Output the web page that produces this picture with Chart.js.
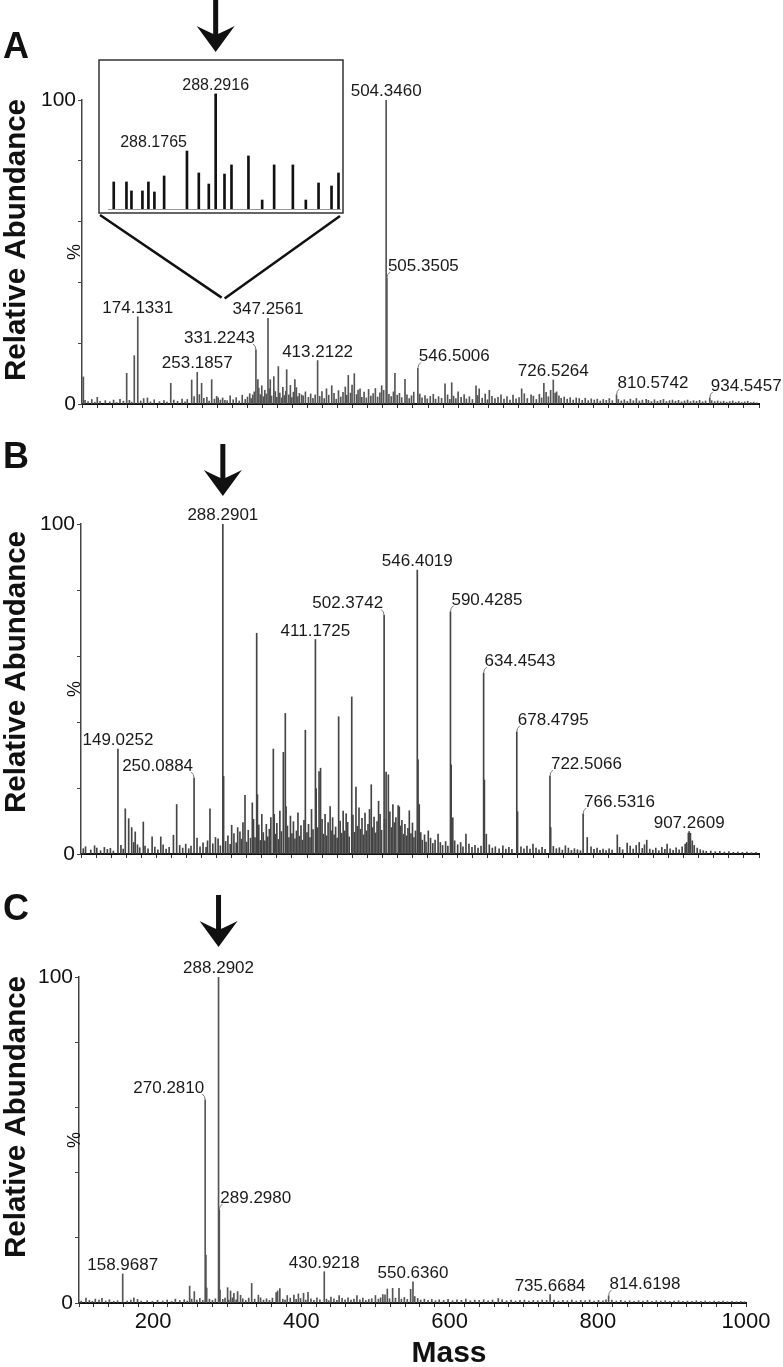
<!DOCTYPE html>
<html>
<head>
<meta charset="utf-8">
<script src="https://cdn.jsdelivr.net/npm/chart.js@4.4.1/dist/chart.umd.min.js"></script>
<style>
  html, body { margin: 0; padding: 0; background: #fff; }
  #wrap { position: relative; width: 783px; height: 1367px; overflow: hidden; }
  canvas { position: absolute; }
</style>
</head>
<body>
<div id="wrap">
  <canvas id="chartA" width="783" height="420" style="left:0;top:0"></canvas>
  <canvas id="chartB" width="783" height="450" style="left:0;top:420px"></canvas>
  <canvas id="chartC" width="783" height="497" style="left:0;top:870px"></canvas>
  <canvas id="inset" width="260" height="220" style="left:90px;top:0"></canvas>
</div>
<script>
// ---- data: [mass, relative abundance %] ----
const peaksA = [[101.8, 8.9], [120.3, 2.2], [150.5, 1.5], [159.4, 10.1], [169.5, 15.9], [174.1331, 28.7], [187.0, 2.0],
  [218.0, 6.8], [240.0, 1.5], [245.8, 7.9], [253.1857, 10.4], [259.0, 6.8], [272.4, 8.0], [281.0, 2.0], [290.0, 1.2],
  [327.0, 3.0], [331.2243, 17.8], [333.8, 8.0], [347.2561, 28.2], [350.3, 8.0], [355.0, 9.0], [361.0, 12.3], [365.5, 2.0],
  [372.1, 11.3], [383.0, 8.0], [392.0, 3.0], [413.2122, 14.3], [425.0, 5.0], [432.0, 6.0], [454.0, 9.4], [462.0, 10.0],
  [469.6, 5.0], [498.4, 6.0], [504.3460, 100], [505.3505, 41.4], [516.0, 10.1], [529.4, 8.1], [546.5006, 11.7], [582.6, 6.6],
  [591.5, 7.0], [600.0, 4.0], [623.8, 6.0], [628.0, 5.0], [641.5, 4.5], [684.5, 5.0], [697.0, 3.0], [714.0, 6.8],
  [726.5264, 7.9], [731.0, 4.0], [757.0, 2.0], [810.5742, 3.0], [850.0, 1.5], [934.5457, 2.0]];
const noiseA = [[104, 1.2], [108, 0.8], [113, 1.5], [117, 0.6], [124, 0.9], [131, 1.1], [137, 0.7], [142, 1.3], [146, 0.5],
  [155, 0.9], [163, 1.2], [166, 0.6], [178, 1.0], [182, 1.8], [191, 0.7], [196, 1.4], [203, 0.8], [209, 1.1], [213, 0.6],
  [222, 1.3], [227, 0.9], [233, 1.6], [237, 0.7], [249, 2.4], [256, 3.1], [262, 1.9], [266, 2.2], [269, 1.0], [276, 1.6],
  [279, 2.5], [284, 1.3], [287, 2.0], [293, 1.1], [297, 2.7], [301, 1.4], [305, 2.1], [309, 1.0], [313, 2.9], [317, 1.5],
  [320, 2.3], [323, 3.4], [325, 1.8], [329, 4.0], [335, 5.2], [337, 3.1], [339, 6.0], [341, 2.4], [343, 4.5], [345, 3.3],
  [349, 5.0], [352, 2.6], [357, 4.1], [359, 2.2], [363, 3.6], [367, 5.5], [369, 2.8], [371, 4.2], [375, 3.0], [377, 6.1],
  [379, 2.1], [381, 3.9], [385, 5.4], [387, 2.4], [389, 3.5], [394, 2.7], [397, 4.0], [401, 2.2], [404, 3.3], [407, 1.9],
  [410, 3.0], [416, 2.5], [419, 4.1], [422, 1.8], [428, 2.9], [435, 3.5], [438, 1.6], [441, 4.4], [444, 2.3], [447, 3.8],
  [450, 5.6], [452, 2.9], [457, 3.6], [459, 6.2], [465, 3.1], [467, 4.6], [472, 2.2], [475, 3.9], [478, 2.0], [481, 4.8],
  [484, 2.6], [487, 3.4], [490, 5.1], [493, 2.3], [496, 3.7], [501, 4.5], [508, 3.2], [511, 2.4], [514, 4.0], [519, 2.9],
  [522, 3.5], [525, 2.1], [532, 3.0], [535, 1.8], [538, 2.7], [541, 3.9], [549, 3.3], [552, 2.0], [556, 2.8], [559, 1.7],
  [563, 2.5], [567, 3.2], [570, 1.6], [574, 2.4], [578, 1.9], [586, 3.0], [589, 1.5], [594, 2.6], [597, 1.8], [604, 2.2],
  [608, 3.1], [611, 1.7], [615, 2.4], [619, 1.5], [626, 2.8], [632, 1.9], [636, 3.3], [639, 1.4], [645, 2.5], [649, 1.8],
  [653, 2.2], [657, 3.0], [661, 1.6], [665, 2.4], [669, 1.3], [673, 2.9], [677, 1.7], [681, 2.1], [688, 3.4], [692, 1.8],
  [700, 2.6], [704, 1.5], [708, 3.2], [711, 2.0], [717, 3.8], [720, 2.4], [723, 4.5], [729, 3.6], [734, 2.7], [737, 1.9],
  [741, 2.3], [745, 1.6], [749, 2.1], [753, 1.3], [761, 1.8], [765, 1.2], [769, 1.9], [773, 1.1], [777, 1.7], [781, 1.3],
  [785, 1.6], [789, 1.0], [793, 1.5], [797, 1.2], [801, 1.8], [805, 1.1], [813, 1.5], [817, 1.0], [821, 1.4], [825, 0.9],
  [829, 1.6], [833, 1.1], [837, 1.8], [841, 1.0], [845, 1.3], [853, 1.2], [857, 0.8], [861, 1.4], [865, 0.9], [869, 1.2],
  [873, 1.5], [877, 0.8], [881, 1.1], [885, 1.3], [889, 0.9], [893, 1.2], [897, 0.7], [901, 1.0], [905, 1.3], [909, 0.8],
  [913, 1.1], [917, 0.9], [921, 1.2], [925, 0.7], [929, 1.0], [937, 1.1], [941, 0.8], [945, 1.0], [949, 0.7], [953, 0.9],
  [957, 0.6], [961, 0.8], [965, 1.0], [969, 0.6], [973, 0.8], [977, 0.5], [981, 0.7], [985, 0.9], [989, 0.5], [993, 0.6], [997, 0.4]];
const tagsA = ['174.1331', '253.1857', '331.2243', '347.2561', '413.2122', '504.3460', '505.3505', '546.5006', '726.5264', '810.5742', '934.5457'];

const insetPeaks = [[287.883, 23.5], [287.934, 23.5], [287.954, 15.7], [287.998, 15.7], [288.022, 23.5], [288.046, 14.8],
  [288.085, 28.7], [288.1765, 50.4], [288.224, 31.3], [288.264, 21.7], [288.2916, 100], [288.327, 30.4], [288.355, 38.3],
  [288.423, 46.1], [288.478, 7.8], [288.526, 38.3], [288.601, 38.3], [288.653, 7.8], [288.704, 22.6], [288.756, 20.0], [288.784, 31.3]];
const insetTags = ['288.2916', '288.1765'];

const peaksB = [[149.0252, 31.8], [158.8, 13.7], [163.3, 10.7], [167.3, 8.0], [172.0, 6.7], [182.7, 9.7], [194.4, 5.2],
  [205.9, 5.2], [222.7, 5.7], [227.0, 15.0], [250.0884, 23.0], [271.2, 13.7], [278.5, 5.0], [288.2901, 100], [289.3, 23.5],
  [300.0, 8.7], [311.0, 6.7], [317.7, 17.8], [327.4, 15.5], [333.2, 66.9], [334.2, 18.0], [355.3, 31.8], [356.5, 12.0],
  [368.6, 30.8], [371.2, 42.6], [372.2, 14.4], [397.8, 37.5], [411.1725, 65.0], [412.2, 19.8], [416.0, 25.0], [418.0, 26.0],
  [430.7, 14.4], [442.0, 41.6], [452.0, 12.2], [459.4, 47.6], [465.0, 20.3], [485.3, 21.0], [495.0, 16.0], [502.3742, 72.3],
  [505.0, 24.8], [508.0, 24.0], [521.0, 14.7], [522.5, 14.3], [535.8, 13.1], [546.4019, 86.0], [547.4, 28.5], [549.0, 15.0],
  [561.0, 7.0], [574.0, 6.0], [590.4285, 73.4], [591.4, 27.0], [593.5, 11.0], [611.0, 6.0], [634.4543, 54.8], [635.5, 22.4],
  [638.0, 6.0], [678.4795, 37.0], [679.5, 12.8], [700.0, 3.0], [722.5066, 23.6], [723.5, 8.0], [743.0, 2.5], [766.5316, 12.1],
  [772.0, 5.0], [811.9, 5.8], [825.0, 3.3], [841.0, 3.5], [851.0, 4.2], [878.0, 3.0], [902.0, 3.0], [906.2, 6.3],
  [907.2609, 6.8], [909.0, 6.3], [911.5, 4.0]];
const noiseB = [[103, 1.6], [106, 2.2], [113, 1.2], [118, 2.5], [121, 1.8], [126, 1.0], [131, 2.0], [135, 1.4], [139, 1.7],
  [143, 0.9], [153, 2.6], [156, 1.5], [170, 3.5], [175, 2.8], [178, 1.9], [185, 2.4], [189, 1.6], [198, 2.1], [202, 1.3],
  [209, 2.8], [213, 1.5], [217, 2.0], [231, 2.6], [235, 1.8], [239, 3.0], [243, 1.6], [246, 2.4], [254, 4.8], [258, 2.2],
  [262, 3.4], [266, 2.0], [268, 4.0], [275, 3.1], [282, 4.6], [285, 2.5], [292, 3.8], [295, 5.5], [298, 2.9], [303, 6.2],
  [306, 3.4], [308, 8.0], [313, 4.5], [315, 9.5], [320, 3.6], [322, 7.2], [325, 4.8], [329, 10.5], [331, 5.0], [336, 8.8],
  [338, 4.1], [340, 12.0], [342, 6.5], [344, 4.0], [346, 9.0], [348, 5.2], [350, 7.5], [352, 11.0], [358, 6.0], [360, 9.3],
  [362, 4.4], [364, 13.0], [366, 6.8], [374, 8.5], [376, 5.0], [378, 11.5], [380, 6.2], [382, 9.8], [384, 4.6], [386, 7.0],
  [388, 12.5], [390, 5.4], [392, 8.6], [394, 4.2], [396, 10.2], [400, 6.5], [402, 9.0], [404, 5.0], [406, 13.5], [408, 7.4],
  [414, 8.0], [420, 10.5], [422, 6.0], [424, 12.0], [426, 5.5], [428, 9.5], [432, 7.0], [434, 11.0], [436, 5.8], [438, 8.2],
  [440, 4.8], [444, 10.0], [446, 6.3], [448, 13.0], [450, 7.0], [454, 9.6], [456, 5.2], [461, 11.8], [463, 6.6], [467, 8.4],
  [469, 14.0], [471, 7.5], [473, 10.8], [475, 5.8], [477, 12.4], [479, 7.0], [481, 9.0], [483, 13.5], [487, 8.0], [489, 11.2],
  [491, 6.4], [493, 9.8], [497, 12.0], [499, 7.2], [503, 10.5], [510, 12.8], [512, 8.0], [514, 15.0], [516, 9.5], [518, 11.0],
  [524, 8.5], [526, 10.2], [528, 6.0], [530, 9.0], [532, 5.5], [534, 7.8], [538, 6.2], [540, 9.4], [542, 5.0], [544, 7.0],
  [551, 6.5], [553, 4.2], [556, 5.8], [558, 3.6], [564, 4.8], [567, 3.2], [570, 4.2], [577, 3.5], [580, 2.6], [584, 3.8],
  [587, 2.4], [596, 4.0], [600, 2.8], [604, 3.5], [607, 2.2], [615, 3.0], [619, 2.0], [623, 2.6], [627, 1.8], [631, 2.4],
  [642, 2.8], [646, 1.8], [650, 2.2], [655, 1.6], [660, 2.5], [664, 1.5], [668, 2.0], [672, 1.4], [684, 2.2], [688, 1.6],
  [692, 2.4], [696, 1.5], [704, 1.8], [708, 1.3], [712, 2.0], [716, 1.4], [727, 2.3], [731, 1.6], [735, 1.9], [739, 1.2],
  [747, 1.8], [751, 1.1], [755, 1.6], [759, 1.3], [763, 1.0], [777, 2.2], [781, 1.4], [785, 1.8], [789, 1.1], [793, 1.5],
  [797, 1.0], [801, 1.6], [805, 1.2], [815, 2.0], [819, 1.3], [829, 2.4], [833, 1.5], [837, 2.6], [845, 1.7], [848, 2.8],
  [855, 1.5], [859, 1.2], [863, 1.8], [867, 1.0], [871, 2.0], [875, 1.4], [882, 1.6], [886, 1.1], [890, 1.9], [894, 1.3],
  [898, 2.2], [904, 3.5], [914, 2.6], [918, 1.8], [922, 1.3], [926, 1.0], [930, 0.8], [936, 0.9], [942, 0.7], [948, 0.8],
  [954, 0.6], [960, 0.7], [966, 0.5], [972, 0.6], [978, 0.5], [984, 0.6], [990, 0.4], [996, 0.5]];
const tagsB = ['149.0252', '250.0884', '288.2901', '411.1725', '502.3742', '546.4019', '590.4285', '634.4543', '678.4795', '722.5066', '766.5316', '907.2609'];

const peaksC = [[109.4, 1.5], [122, 1.2], [131, 1.4], [158.9687, 8.9], [174, 1.6], [230, 1.2], [249.3, 5.2], [255.6, 3.5],
  [270.2810, 62.3], [271.28, 14.7], [272.3, 4.6], [288.2902, 100], [289.2980, 28.5], [290.3, 4.0], [300.5, 4.7], [304.5, 3.7],
  [309.0, 3.0], [314.0, 3.5], [318, 2.4], [333.0, 6.0], [342, 2.4], [366, 3.2], [368, 3.7], [371, 4.4], [381, 2.3], [390, 2.4],
  [396, 2.8], [403.0, 3.0], [409, 3.3], [430.9218, 9.6], [440, 1.8], [451, 2.3], [475, 2.3], [500, 2.3], [510, 2.6],
  [512.9, 2.5], [516, 4.3], [523.2, 4.5], [531.8, 4.5], [547.5, 4.2], [550.6360, 6.5], [553, 2.0], [665.8, 1.4],
  [735.6684, 2.6], [814.6198, 2.2]];
const noiseC = [[103, 0.6], [114, 0.8], [118, 0.5], [127, 0.9], [136, 0.6], [141, 1.0], [147, 0.5], [152, 0.7], [165, 0.6],
  [170, 0.9], [179, 1.1], [184, 0.6], [192, 0.7], [199, 0.5], [206, 0.8], [213, 0.6], [219, 0.9], [225, 0.5], [236, 0.8],
  [242, 1.0], [246, 0.6], [252, 1.2], [259, 0.9], [263, 1.4], [267, 0.8], [276, 1.2], [280, 0.8], [284, 1.3], [294, 1.1],
  [297, 1.5], [302, 0.9], [307, 1.6], [312, 1.0], [321, 1.3], [325, 0.8], [329, 1.5], [337, 1.2], [345, 1.6], [349, 0.9],
  [353, 1.3], [357, 0.8], [361, 1.5], [375, 1.2], [378, 0.9], [385, 1.5], [393, 1.1], [399, 1.4], [406, 0.9], [413, 1.3],
  [417, 0.8], [421, 1.6], [425, 1.0], [434, 1.2], [437, 0.7], [444, 1.3], [448, 0.8], [455, 1.4], [459, 1.0], [463, 1.6],
  [467, 0.9], [471, 1.2], [479, 1.0], [483, 1.5], [487, 0.8], [491, 1.1], [495, 1.3], [504, 1.2], [507, 1.6], [519, 1.3],
  [527, 1.5], [535, 1.2], [539, 1.7], [543, 1.1], [557, 1.4], [561, 0.9], [566, 1.2], [571, 0.8], [576, 1.1], [581, 0.7],
  [586, 1.0], [592, 0.8], [598, 1.1], [604, 0.7], [610, 1.0], [616, 0.8], [622, 1.2], [628, 0.7], [634, 0.9], [640, 0.8],
  [646, 1.0], [652, 0.7], [658, 0.9], [671, 1.0], [677, 0.7], [683, 0.9], [689, 0.6], [695, 0.8], [701, 0.9], [707, 0.6],
  [713, 0.8], [719, 0.7], [725, 0.9], [731, 0.8], [741, 0.9], [747, 0.6], [753, 0.8], [759, 0.7], [765, 0.9], [771, 0.6],
  [777, 0.8], [783, 0.7], [789, 0.9], [795, 0.6], [801, 0.8], [807, 0.7], [811, 1.0], [819, 0.9], [825, 0.6], [831, 0.8],
  [837, 0.6], [843, 0.7], [849, 0.5], [855, 0.7], [861, 0.6], [867, 0.8], [873, 0.5], [879, 0.7], [885, 0.6], [891, 0.7],
  [897, 0.5], [903, 0.6], [909, 0.7], [915, 0.5], [921, 0.6], [927, 0.5], [933, 0.7], [939, 0.5], [945, 0.6], [951, 0.4],
  [957, 0.6], [963, 0.5], [969, 0.6], [975, 0.4], [981, 0.5], [987, 0.4], [993, 0.5], [998, 0.4]];
const tagsC = ['158.9687', '270.2810', '288.2902', '289.2980', '430.9218', '550.6360', '735.6684', '814.6198'];

const massTicks = [200, 400, 600, 800, 1000];
const pctTicks = [0, 100];

// ---- layout (pixels) ----
const FONT = '"Liberation Sans", Arial, Helvetica, sans-serif';
Chart.defaults.font.family = FONT;
const INSET_BOX = { x: 9, y: 60, w: 244, h: 153, left: 90 };  // in inset canvas coords

function drawArrow(ctx, x, tip) {
  ctx.fillStyle = '#111';
  ctx.fillRect(x - 2.5, tip - 52, 5, 36);
  ctx.beginPath();
  ctx.moveTo(x, tip);
  ctx.lineTo(x - 19, tip - 26);
  ctx.quadraticCurveTo(x - 7, tip - 20, x, tip - 17);
  ctx.quadraticCurveTo(x + 7, tip - 20, x + 19, tip - 26);
  ctx.closePath();
  ctx.fill();
}

function drawTags(chart, spec, tags, place, px) {
  const ctx = chart.ctx, xs = chart.scales.x, ys = chart.scales.y;
  ctx.font = px + 'px ' + FONT;
  ctx.textBaseline = 'alphabetic';
  tags.forEach((t, i) => {
    const m = parseFloat(t);
    let best = spec[0];
    spec.forEach(p => { if (Math.abs(p[0] - m) < Math.abs(best[0] - m)) best = p; });
    const x = xs.getPixelForValue(best[0]);
    const y = ys.getPixelForValue(best[1]);
    const mode = place[i];
    ctx.fillStyle = '#1a1a1a';
    if (mode === 'c') {
      ctx.textAlign = 'center';
      ctx.fillText(t, x, y - 4);
    } else if (mode === 'R') {
      ctx.textAlign = 'right';
      ctx.fillText(t, x, y - 4);
    } else {
      const s = mode === 'l' ? 1 : -1;
      ctx.strokeStyle = '#777';
      ctx.lineWidth = 1;
      ctx.beginPath();
      ctx.moveTo(x, y);
      ctx.quadraticCurveTo(x, y - 4, x + s * 3, y - 6);
      ctx.stroke();
      ctx.textAlign = s > 0 ? 'left' : 'right';
      ctx.fillText(t, x + s * 1, y - 7);
    }
  });
}

const decor = {
  id: 'decor',
  afterDraw(chart, args, o) {
    const ctx = chart.ctx, a = chart.chartArea;
    ctx.save();
    ctx.fillStyle = '#111';
    ctx.font = 'bold 36px ' + FONT;
    ctx.textAlign = 'left';
    ctx.textBaseline = 'alphabetic';
    ctx.fillText(o.letter, 3, o.letterY);

    ctx.save();
    ctx.translate(25, o.titleY);
    ctx.rotate(-Math.PI / 2);
    ctx.font = 'bold 29.5px ' + FONT;
    ctx.textAlign = 'center';
    ctx.fillText('Relative Abundance', 0, 0);
    ctx.restore();

    ctx.save();
    ctx.translate(80, (a.top + a.bottom) / 2);
    ctx.rotate(-Math.PI / 2);
    ctx.font = '18px ' + FONT;
    ctx.textAlign = 'center';
    ctx.fillText('%', 0, 0);
    ctx.restore();

    drawTags(chart, o.spec, o.tags, o.place, 17);

    if (o.arrowTip !== undefined) drawArrow(ctx, chart.scales.x.getPixelForValue(o.arrowMass), a.top + o.arrowTip);

    if (o.zoomLines) {
      const ax = chart.scales.x.getPixelForValue(288.29);
      const ay = chart.scales.y.getPixelForValue(35);
      ctx.strokeStyle = '#111';
      ctx.lineWidth = 2.5;
      ctx.beginPath();
      ctx.moveTo(INSET_BOX.left + INSET_BOX.x + 1, INSET_BOX.y + INSET_BOX.h + 2);
      ctx.lineTo(ax - 2, ay);
      ctx.moveTo(INSET_BOX.left + INSET_BOX.x + INSET_BOX.w - 3, INSET_BOX.y + INSET_BOX.h + 3);
      ctx.lineTo(ax + 1, ay + 1);
      ctx.stroke();
    }
    if (o.xTitle) {
      ctx.font = 'bold 30px ' + FONT;
      ctx.textAlign = 'center';
      ctx.fillText('Mass', 449, o.xTitleY);
    }
    ctx.restore();
  }
};

function makePanel(id, spec, noise, tags, place, L) {
  return new Chart(document.getElementById(id), {
    type: 'bar',
    data: {
      datasets: [{
        data: spec.concat(noise).map(p => ({ x: p[0], y: p[1] })),
        backgroundColor: L.color,
        barThickness: 1,
        grouped: false
      }]
    },
    options: {
      responsive: false,
      animation: false,
      events: [],
      layout: { padding: { left: 0, right: L.right, top: L.top, bottom: 0 } },
      plugins: {
        legend: { display: false },
        tooltip: { enabled: false },
        decor: Object.assign({ spec: spec, tags: tags, place: place }, L)
      },
      scales: {
        x: {
          type: 'linear', min: 100, max: 1000, offset: false,
          afterFit: s => { s.height = L.bottom; },
          grid: { drawOnChartArea: false, offset: false, tickLength: 4, color: '#333' },
          border: { color: '#111', width: 2 },
          ticks: {
            display: !!L.xTitle, stepSize: 20, autoSkip: false, maxRotation: 0, padding: 2,
            color: '#111', font: { size: 22 },
            callback: v => massTicks.includes(v) ? String(v) : ''
          }
        },
        y: {
          min: 0, max: 100,
          afterFit: s => { s.width = L.left; },
          grid: { drawOnChartArea: false, tickLength: 4, color: '#444' },
          border: { color: '#444', width: 1.5 },
          ticks: {
            stepSize: 20, autoSkip: false, padding: 2, color: '#111', font: { size: 21 },
            callback: v => pctTicks.includes(v) ? String(v) : ''
          }
        }
      }
    },
    plugins: [decor]
  });
}

makePanel('chartA', peaksA, noiseA, tagsA, ['c', 'c', 'r', 'c', 'c', 'c', 'l', 'l', 'c', 'l', 'l'],
  { left: 82, right: 24, top: 100, bottom: 16, color: '#555', letter: 'A', letterY: 58, titleY: 240, zoomLines: true });
makePanel('chartB', peaksB, noiseB, tagsB, ['c', 'r', 'c', 'c', 'r', 'c', 'l', 'l', 'l', 'l', 'l', 'c'],
  { left: 81, right: 24, top: 104, bottom: 16, color: '#444', letter: 'B', letterY: 48, titleY: 252, arrowMass: 288.29, arrowTip: -28 });
makePanel('chartC', peaksC, noiseC, tagsC, ['c', 'r', 'c', 'l', 'c', 'c', 'c', 'l'],
  { left: 79, right: 37, top: 107, bottom: 64, color: '#555', letter: 'C', letterY: 50, titleY: 247, arrowMass: 288.29, arrowTip: -30, xTitle: true, xTitleY: 492 });

// ---- inset zoom of the 288 region in panel A ----
const insetDecor = {
  id: 'insetDecor',
  beforeDraw(chart) {
    const ctx = chart.ctx, b = INSET_BOX;
    ctx.save();
    ctx.fillStyle = '#fff';
    ctx.fillRect(b.x, b.y, b.w, b.h);
    ctx.strokeStyle = '#333';
    ctx.lineWidth = 1.5;
    ctx.strokeRect(b.x, b.y, b.w, b.h);
    ctx.restore();
  },
  afterDraw(chart) {
    const ctx = chart.ctx;
    ctx.save();
    drawTags(chart, insetPeaks, insetTags, ['c', 'R'], 16);
    drawArrow(ctx, chart.scales.x.getPixelForValue(288.2916), 52);
    ctx.restore();
  }
};

new Chart(document.getElementById('inset'), {
  type: 'bar',
  data: {
    datasets: [{
      data: insetPeaks.map(p => ({ x: p[0], y: p[1] })),
      backgroundColor: '#111',
      barThickness: 2,
      grouped: false
    }]
  },
  options: {
    responsive: false,
    animation: false,
    events: [],
    layout: { padding: { left: 18, right: 10, top: 64, bottom: 11 } },
    plugins: { legend: { display: false }, tooltip: { enabled: false } },
    scales: {
      x: {
        type: 'linear', min: 287.86, max: 288.79, offset: false,
        afterFit: s => { s.height = 0; },
        grid: { drawOnChartArea: false, drawTicks: false, offset: false },
        border: { color: '#999', width: 1 },
        ticks: { display: false }
      },
      y: { min: 0, max: 126, display: false }
    }
  },
  plugins: [insetDecor]
});
</script>
</body>
</html>
